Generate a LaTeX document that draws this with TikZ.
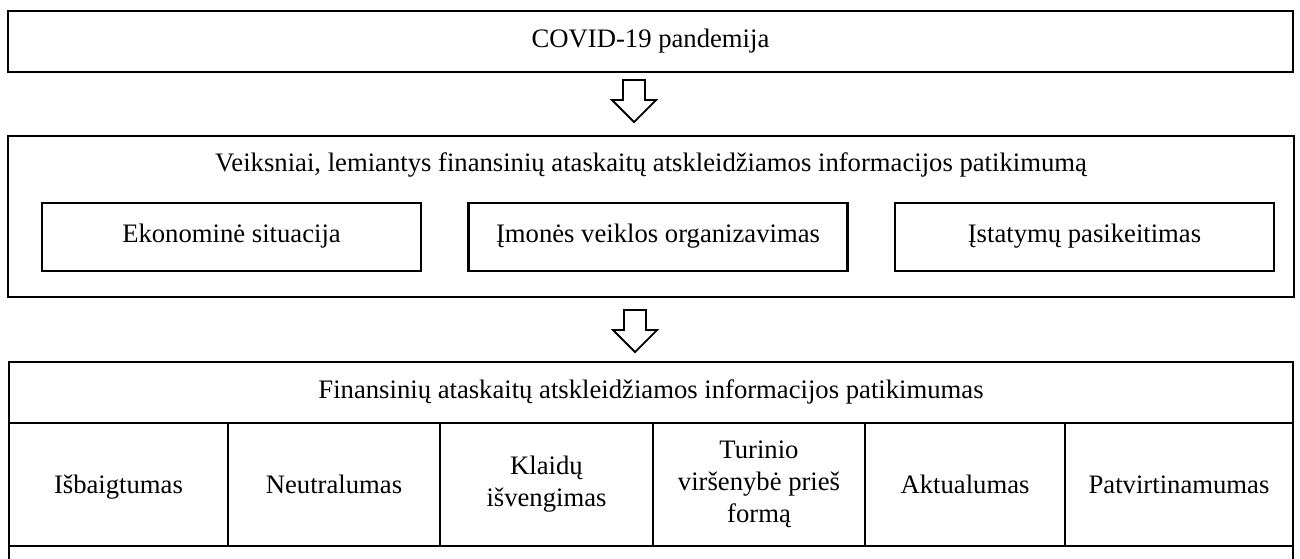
\documentclass[tikz,border=0pt]{standalone}
\usepackage{fontspec}
\setmainfont{Liberation Serif}
\usetikzlibrary{positioning}

\begin{document}
\begin{tikzpicture}[x=0.45pt, y=-0.45pt,
    every node/.style={rectangle, inner sep=0pt, outer sep=0pt, align=center, font=\fontsize{12}{14.4}\selectfont},
    oneline/.style={text height=1.6ex, text depth=.45ex},
    field/.style={draw, line width=1.2pt, oneline},
    cell/.style={draw, line width=1pt, minimum height=55.35pt},
    cellone/.style={cell, text height=2.2ex, text depth=.45ex},
    downarrow/.pic={\draw[line width=0.8pt] (-11,0) -- (11,0) -- (11,20) -- (22,20) -- (0,42) -- (-22,20) -- (-11,20) -- cycle;}]
\useasboundingbox (0,0) rectangle (1300,558);

% top
\node [field, minimum width=578.25pt, minimum height=27.45pt] (covid) at (650.5,41.5) {COVID-19 pandemija};
\pic at (634,80) {downarrow};

% factors
\node [field, minimum width=578.7pt, minimum height=72.45pt] (veik) at (651,216.5) {};
\node [oneline] (veiktitle) at (651,166) {Veiksniai, lemiantys finansinių ataskaitų atskleidžiamos informacijos patikimumą};
\node [field, minimum width=170.55pt, minimum height=30.6pt] (eko) at (231.5,237) {Ekonominė situacija};
\node [field, minimum width=170.55pt, minimum height=30.6pt] (org) at (658,237) {Įmonės veiklos organizavimas};
\node [field, minimum width=170.55pt, minimum height=30.6pt] (ist) at (1084.5,237) {Įstatymų pasikeitimas};
\pic at (635,310) {downarrow};

% table
\node [cell, oneline, minimum width=577.8pt, minimum height=27.45pt, anchor=north west] (hdr) at (9,362) {Finansinių ataskaitų atskleidžiamos informacijos patikimumas};
\node [cellone, minimum width=98.55pt, anchor=north west] (c1) at (hdr.south west) {Išbaigtumas};
\node [cellone, minimum width=95.4pt, right=0pt of c1] (c2) {Neutralumas};
\node [cell, minimum width=95.85pt, right=0pt of c2] (c3) {Klaidų\\išvengimas};
\node [cell, minimum width=95.4pt, right=0pt of c3] (c4) {Turinio\\viršenybė prieš\\formą};
\node [cellone, minimum width=90pt, right=0pt of c4] (c5) {Aktualumas};
\node [cellone, minimum width=102.6pt, right=0pt of c5] (c6) {Patvirtinamumas};
\draw [line width=1pt] (c1.south west) -- ++(0,14);
\draw [line width=1pt] (c6.south east) -- ++(0,14);
\end{tikzpicture}
\end{document}
